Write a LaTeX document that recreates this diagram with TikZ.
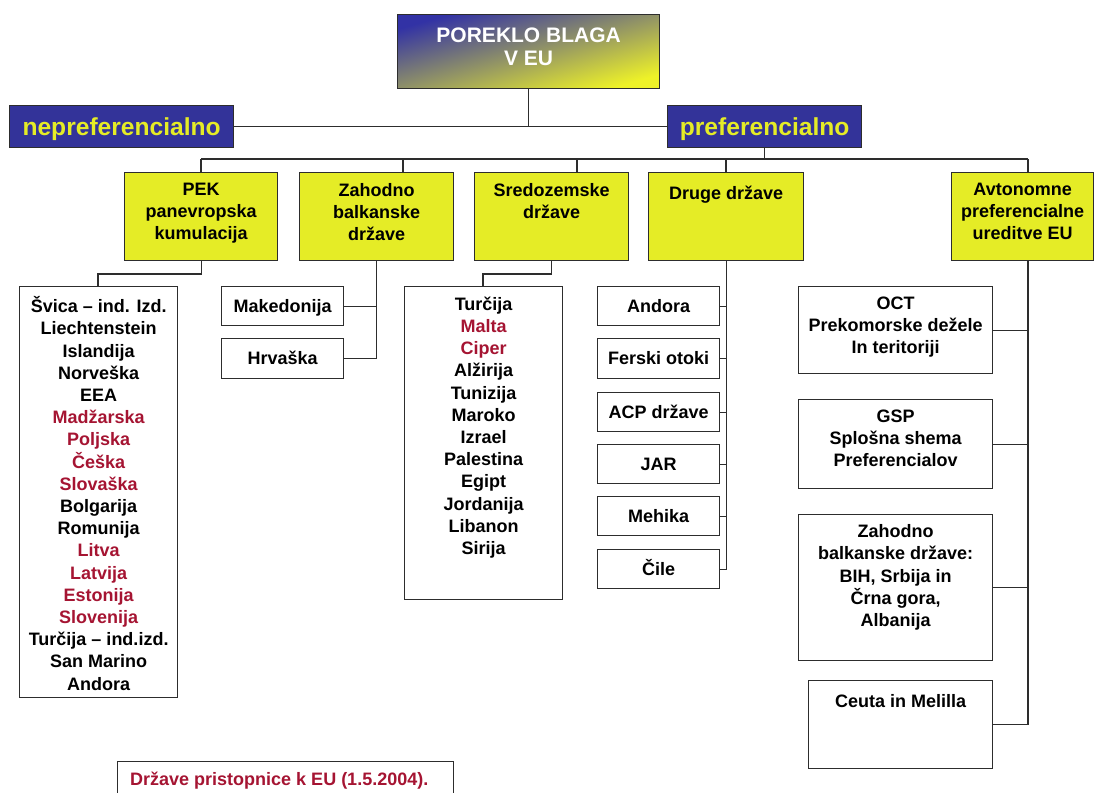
\documentclass[tikz,border=0pt]{standalone}
\usepackage{fontspec}
\setmainfont{Liberation Sans}
\definecolor{navy}{RGB}{51,51,153}
\definecolor{ylw}{RGB}{229,236,38}
\definecolor{hdrblue}{RGB}{50,50,165}
\definecolor{hdrylw}{RGB}{238,242,40}
\definecolor{accred}{RGB}{165,20,50}
\definecolor{edge}{RGB}{45,45,45}
\begin{document}
\begin{tikzpicture}[x=1pt,y=-1pt,
  box/.style={draw=edge, line width=1.3pt, inner sep=0pt, anchor=north west},
  catbox/.style={box, fill=ylw},
  txt/.style={font=\fontsize{18}{22.2}\selectfont\bfseries, align=center, inner sep=0pt,
    anchor=north, execute at begin node={\rule{0pt}{16pt}}},
  bluebox/.style={box, fill=navy, text=ylw, font=\fontsize{24.6}{28}\selectfont\bfseries},
  link/.style={draw=edge, line width=1.2pt},
  rd/.style={text=accred}
]
\useasboundingbox (0,0) rectangle (1094,792);
\clip (0,0) rectangle (1094,792);

% header
\node[box, top color=hdrblue, bottom color=hdrylw, shading angle=16,
      minimum width=262, minimum height=74] (top) at (397,14) {};
\node[txt, text=white, font=\fontsize{21}{23.5}\selectfont\bfseries]
      (topt) at ([yshift=-13.5pt]top.north) {POREKLO BLAGA\\V EU};

% second level
\node[bluebox, minimum width=224, minimum height=42] (nep) at (9,105) {};
\node[text=ylw, font=\fontsize{24.6}{28}\selectfont\bfseries, inner sep=0pt]
      (nept) at ([yshift=-2pt]nep.center) {nepreferencialno};
\node[bluebox, minimum width=194, minimum height=42] (pref) at (667,105) {};
\node[text=ylw, font=\fontsize{24.6}{28}\selectfont\bfseries, inner sep=0pt]
      (preft) at ([yshift=-2pt]pref.center) {preferencialno};

% categories
\node[catbox, minimum width=153, minimum height=88] (pek) at (124,172) {};
\node[txt] (pekt) at ([yshift=-10.8pt]pek.north) {PEK\\panevropska\\kumulacija};
\node[catbox, minimum width=154, minimum height=88] (zah) at (299,172) {};
\node[txt] (zaht) at ([yshift=-10.8pt]zah.north) {Zahodno\\balkanske\\države};
\node[catbox, minimum width=154, minimum height=88] (sre) at (474,172) {};
\node[txt] (sret) at ([yshift=-10.8pt]sre.north) {Sredozemske\\države};
\node[catbox, minimum width=155, minimum height=88] (dru) at (648,172) {};
\node[txt] (drut) at ([yshift=-10.8pt]dru.north) {Druge države};
\node[catbox, minimum width=142, minimum height=88] (avt) at (951,172) {};
\node[txt] (avtt) at ([yshift=-10.8pt]avt.north) {Avtonomne\\preferencialne\\ureditve EU};

% PEK list
\node[box, minimum width=158, minimum height=411] (peklist) at (19,286) {};
\node[txt] (peklistt) at ([yshift=-10.4pt]peklist.north) {Švica – ind. Izd.\\Liechtenstein\\Islandija\\Norveška\\EEA\\
 \textcolor{accred}{Madžarska}\\\textcolor{accred}{Poljska}\\\textcolor{accred}{Češka}\\\textcolor{accred}{Slovaška}\\
 Bolgarija\\Romunija\\\textcolor{accred}{Litva}\\\textcolor{accred}{Latvija}\\\textcolor{accred}{Estonija}\\\textcolor{accred}{Slovenija}\\
 Turčija – ind.izd.\\San Marino\\Andora};

% Zahodno balkanske
\node[box, minimum width=122, minimum height=39] (mak) at (221,286) {};
\node[txt] (makt) at ([yshift=-10pt]mak.north) {Makedonija};
\node[box, minimum width=122, minimum height=40] (hrv) at (221,338) {};
\node[txt] (hrvt) at ([yshift=-10pt]hrv.north) {Hrvaška};

% Sredozemske list
\node[box, minimum width=158, minimum height=313] (srelist) at (404,286) {};
\node[txt] (srelistt) at ([yshift=-10.6pt]srelist.north) {Turčija\\\textcolor{accred}{Malta}\\\textcolor{accred}{Ciper}\\
 Alžirija\\Tunizija\\Maroko\\Izrael\\Palestina\\Egipt\\Jordanija\\Libanon\\Sirija};

% Druge drzave
\node[box, minimum width=122, minimum height=39] (and) at (597,286) {};
\node[txt] (andt) at ([yshift=-10pt]and.north) {Andora};
\node[box, minimum width=122, minimum height=40] (fer) at (597,338) {};
\node[txt] (fert) at ([yshift=-10pt]fer.north) {Ferski otoki};
\node[box, minimum width=122, minimum height=39] (acp) at (597,392) {};
\node[txt] (acpt) at ([yshift=-10pt]acp.north) {ACP države};
\node[box, minimum width=122, minimum height=39] (jar) at (597,444) {};
\node[txt] (jart) at ([yshift=-10pt]jar.north) {JAR};
\node[box, minimum width=122, minimum height=39] (meh) at (597,496) {};
\node[txt] (meht) at ([yshift=-10pt]meh.north) {Mehika};
\node[box, minimum width=122, minimum height=39] (cil) at (597,549) {};
\node[txt] (cilt) at ([yshift=-10pt]cil.north) {Čile};

% Avtonomne
\node[box, minimum width=194, minimum height=87] (oct) at (798,286) {};
\node[txt] (octt) at ([yshift=-10.5pt]oct.north) {OCT\\Prekomorske dežele\\In teritoriji};
\node[box, minimum width=194, minimum height=89] (gsp) at (798,399) {};
\node[txt] (gspt) at ([yshift=-10.5pt]gsp.north) {GSP\\Splošna shema\\Preferencialov};
\node[box, minimum width=194, minimum height=146] (zb) at (798,514) {};
\node[txt] (zbt) at ([yshift=-10.5pt]zb.north) {Zahodno\\balkanske države:\\BIH, Srbija in\\Črna gora,\\Albanija};
\node[box, minimum width=184, minimum height=88] (ceu) at (808,680) {};
\node[txt] (ceut) at ([yshift=-11pt]ceu.north) {Ceuta in Melilla};

% legend
\node[box, minimum width=336, minimum height=60] (leg) at (117,761) {};
\node[font=\fontsize{18}{22}\selectfont\bfseries, text=accred, anchor=west, inner sep=0pt]
      (legt) at (130,781) {Države pristopnice k EU (1.5.2004).};

% connectors
\coordinate (b1) at (201,159);
\coordinate (b2) at (403,159);
\coordinate (b3) at (577,159);
\coordinate (b4) at (726,159);
\coordinate (b5) at (1028,159);
\coordinate (k1) at (98,274);
\coordinate (k2) at (483,274);

\draw[link] (top.south) -- (top.south |- nep.east);
\draw[link] (nep.east) -- (pref.west);
\draw[link] (pref.south) -- (pref.south |- b1);
\draw[link] (b1) -- (b5);
\draw[link] (b1) -- (b1 |- pek.north);
\draw[link] (b2) -- (b2 |- zah.north);
\draw[link] (b3) -- (b3 |- sre.north);
\draw[link] (b4) -- (b4 |- dru.north);
\draw[link] (b5) -- (b5 |- avt.north);

\draw[link] (pek.south) |- (k1) -- (k1 |- peklist.north);
\draw[link] (zah.south) |- (hrv.east);
\draw[link] (mak.east) -- (mak.east -| zah.south);
\draw[link] (sre.south) |- (k2) -- (k2 |- srelist.north);

\draw[link] (dru.south) |- (cil.east);
\draw[link] (and.east) -- (and.east -| dru.south);
\draw[link] (fer.east) -- (fer.east -| dru.south);
\draw[link] (acp.east) -- (acp.east -| dru.south);
\draw[link] (jar.east) -- (jar.east -| dru.south);
\draw[link] (meh.east) -- (meh.east -| dru.south);

\draw[link] (b5 |- avt.south) |- (ceu.east);
\draw[link] (oct.east) -- (oct.east -| b5);
\draw[link] (gsp.east) -- (gsp.east -| b5);
\draw[link] (zb.east) -- (zb.east -| b5);
\end{tikzpicture}
\end{document}
